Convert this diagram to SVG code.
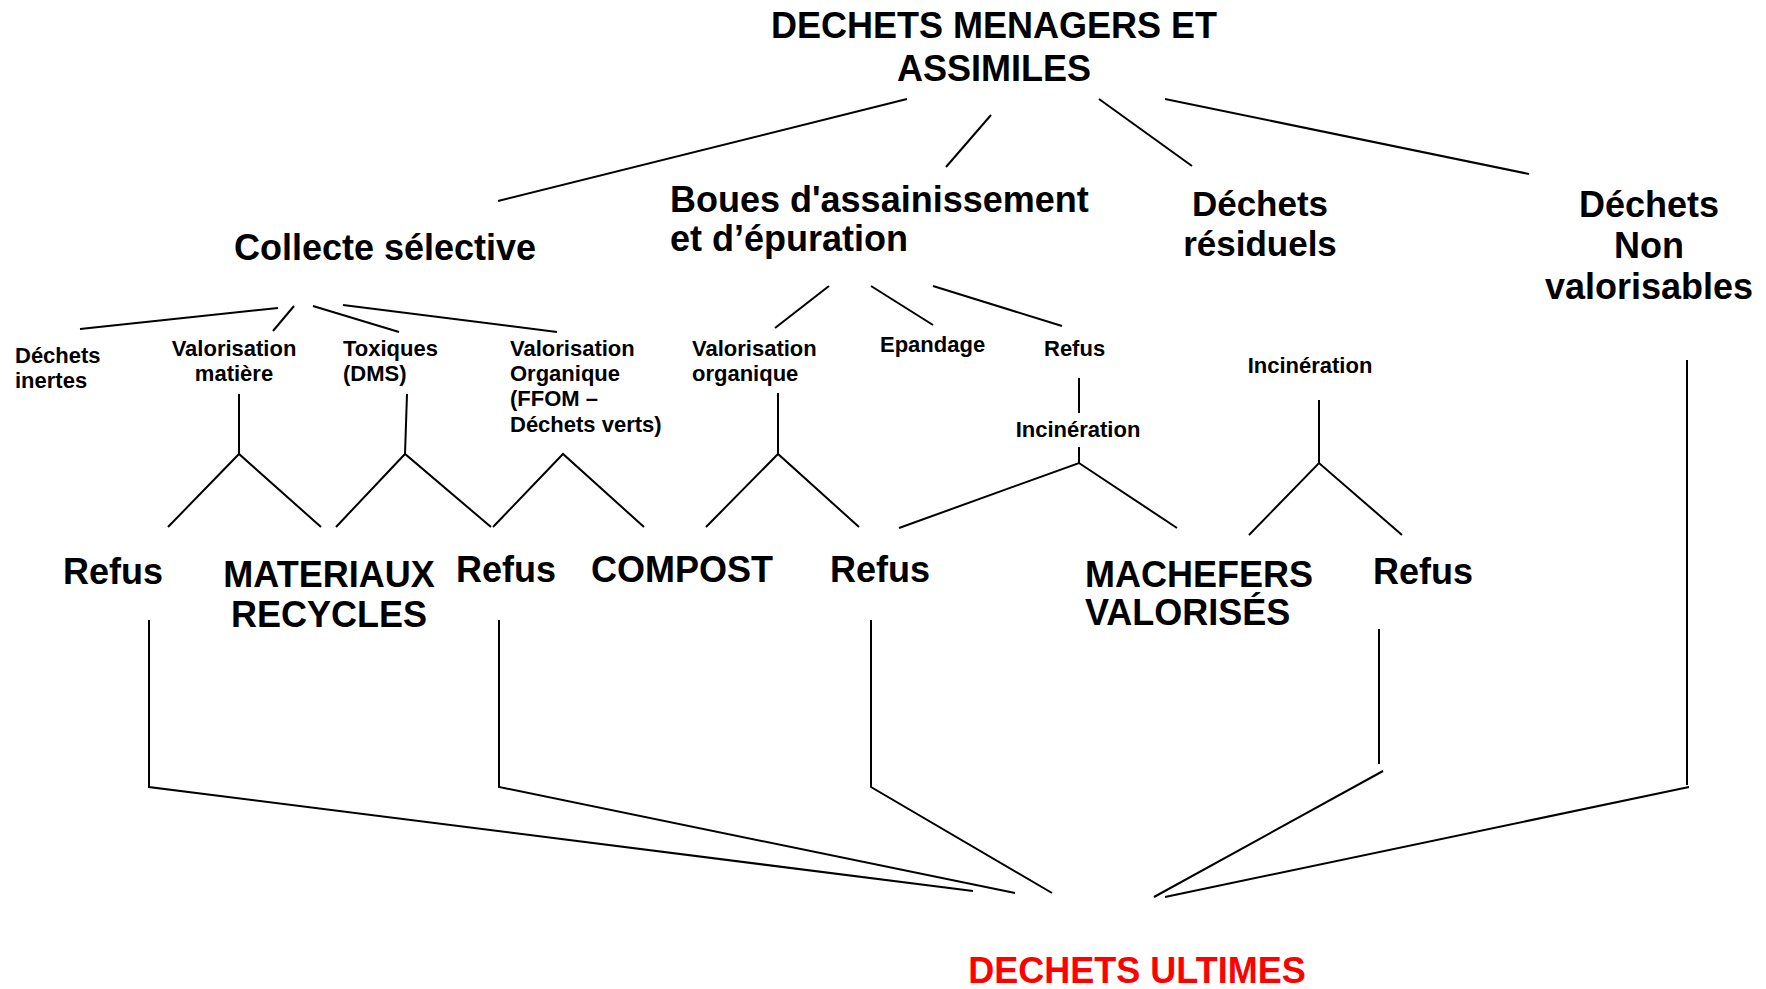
<svg xmlns="http://www.w3.org/2000/svg" width="1766" height="989" viewBox="0 0 1766 989">
<style>
text{font-family:"Liberation Sans",Arial,sans-serif;font-weight:bold;fill:#000}
.big{font-size:36px}
.sm{font-size:22px}
.mid{text-anchor:middle}
.red{fill:#ff0000}
.ln{stroke:#000;stroke-width:2;fill:none;stroke-linejoin:miter}
</style>
<rect width="1766" height="989" fill="#fff"/>
<g id="connectors" class="ln">
<line x1="907" y1="99" x2="498" y2="201"/>
<line x1="991" y1="115" x2="946" y2="167"/>
<line x1="1099" y1="99" x2="1192" y2="166"/>
<line x1="1165" y1="99" x2="1529" y2="174"/>
<line x1="80" y1="329" x2="278" y2="308"/>
<line x1="273" y1="331" x2="294" y2="306"/>
<line x1="313" y1="306" x2="399" y2="332"/>
<line x1="343" y1="305" x2="557" y2="332"/>
<line x1="775" y1="328" x2="829" y2="286"/>
<line x1="871" y1="286" x2="933" y2="325"/>
<line x1="933" y1="286" x2="1062" y2="326"/>
<line x1="239" y1="394" x2="239" y2="454"/>
<polyline points="168,527 239,454 321,527"/>
<line x1="407" y1="394" x2="405" y2="454"/>
<polyline points="336,527 405,454 491,527"/>
<polyline points="493,527 563,454 644,527"/>
<line x1="778" y1="393" x2="778" y2="454"/>
<polyline points="706,527 778,454 859,527"/>
<line x1="1079" y1="378" x2="1079" y2="413"/>
<line x1="1079" y1="447" x2="1079" y2="463"/>
<polyline points="899,528 1079,463 1177,528"/>
<line x1="1319" y1="400" x2="1319" y2="463"/>
<polyline points="1249,535 1319,463 1402,535"/>
<polyline points="149,620 149,787 973,891"/>
<polyline points="499,620 499,787 1015,893"/>
<polyline points="871,620 871,787 1052,893"/>
<line x1="1379" y1="629" x2="1379" y2="764"/>
<line x1="1383" y1="771" x2="1154" y2="897"/>
<line x1="1687" y1="360" x2="1687" y2="785"/>
<line x1="1689" y1="787" x2="1165" y2="897"/>
</g>
<g id="n-root"><text class="big mid" x="994" y="38">DECHETS MENAGERS ET</text><text class="big mid" x="994" y="81">ASSIMILES</text></g>
<g id="n-collecte"><text class="big mid" x="385" y="260">Collecte sélective</text></g>
<g id="n-boues"><text class="big" x="670" y="212">Boues d'assainissement</text><text class="big" x="670" y="251">et d’épuration</text></g>
<g id="n-residuels"><text class="big mid" x="1260" y="216" style="font-size:35px">Déchets</text><text class="big mid" x="1260" y="256" style="font-size:35px">résiduels</text></g>
<g id="n-nonval"><text class="big mid" x="1649" y="217">Déchets</text><text class="big mid" x="1649" y="258">Non</text><text class="big mid" x="1649" y="299">valorisables</text></g>
<g id="n-inertes"><text class="sm" x="15" y="363">Déchets</text><text class="sm" x="15" y="388">inertes</text></g>
<g id="n-valmat"><text class="sm mid" x="234" y="356">Valorisation</text><text class="sm mid" x="234" y="381">matière</text></g>
<g id="n-toxiques"><text class="sm" x="343" y="356">Toxiques</text><text class="sm" x="343" y="381">(DMS)</text></g>
<g id="n-valorg1"><text class="sm" x="510" y="356">Valorisation</text><text class="sm" x="510" y="381">Organique</text><text class="sm" x="510" y="406">(FFOM –</text><text class="sm" x="510" y="432">Déchets verts)</text></g>
<g id="n-valorg2"><text class="sm" x="692" y="356">Valorisation</text><text class="sm" x="692" y="381">organique</text></g>
<g id="n-epandage"><text class="sm" x="880" y="352">Epandage</text></g>
<g id="n-refus-boues"><text class="sm" x="1044" y="356">Refus</text></g>
<g id="n-incin1"><text class="sm mid" x="1078" y="437">Incinération</text></g>
<g id="n-incin2"><text class="sm mid" x="1310" y="373">Incinération</text></g>
<g id="n-refus1"><text class="big" x="63" y="584">Refus</text></g>
<g id="n-materiaux"><text class="big mid" x="329" y="587">MATERIAUX</text><text class="big mid" x="329" y="627">RECYCLES</text></g>
<g id="n-refus2"><text class="big" x="456" y="582">Refus</text></g>
<g id="n-compost"><text class="big" x="591" y="582">COMPOST</text></g>
<g id="n-refus3"><text class="big" x="830" y="582">Refus</text></g>
<g id="n-machefers"><text class="big" x="1085" y="587">MACHEFERS</text><text class="big" x="1085" y="625">VALORISÉS</text></g>
<g id="n-refus4"><text class="big" x="1373" y="584">Refus</text></g>
<g id="n-ultimes"><text class="big mid red" x="1137" y="983">DECHETS ULTIMES</text></g>
</svg>
